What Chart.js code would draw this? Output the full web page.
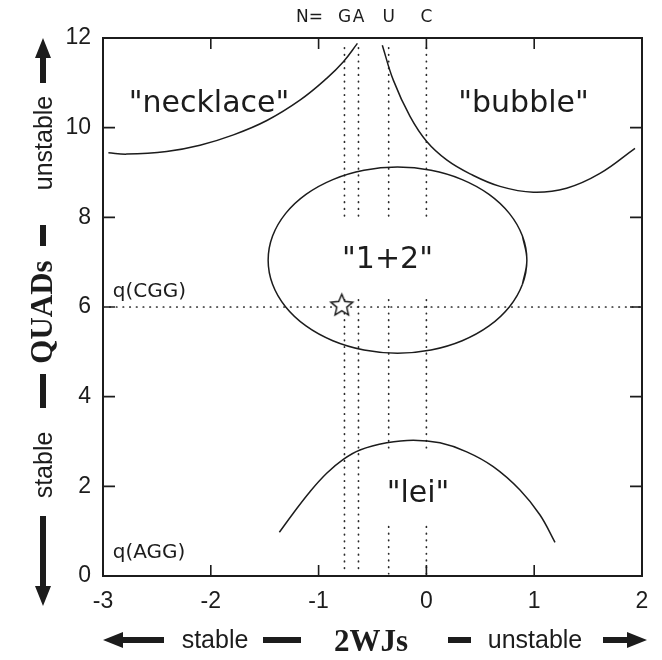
<!DOCTYPE html>
<html>
<head>
<meta charset="utf-8">
<script src="https://cdn.jsdelivr.net/npm/chart.js@4.4.1/dist/chart.umd.min.js"></script>
<style>
  html, body { margin: 0; padding: 0; background: #fff; }
  #wrap { width: 662px; height: 660px; }
</style>
</head>
<body>
<div id="wrap"><canvas id="chart"></canvas></div>
<script>
// ---------- data ----------
const xTickVals = [-3, -2, -1, 0, 1, 2];
const yTickVals = [0, 2, 4, 6, 8, 10, 12];

// "necklace" boundary
const necklaceX = [-2.95, -2.78, -2.41, -2.10, -1.79, -1.48, -1.17, -0.925, -0.77, -0.64];
const necklaceY = [9.44, 9.41, 9.47, 9.61, 9.84, 10.16, 10.62, 11.10, 11.47, 11.88];

// "bubble" boundary
const bubbleX = [-0.409, -0.307, -0.152, 0.003, 0.188, 0.405, 0.683, 0.992, 1.30, 1.61, 1.935];
const bubbleY = [11.84, 11.06, 10.25, 9.69, 9.28, 8.97, 8.69, 8.56, 8.65, 8.98, 9.54];

// "1+2" closed boundary (first and last points overlap so the loop closes smoothly)
const pairX = [0.891, 0.932, 0.891, 0.771, 0.581, 0.332, 0.043, -0.268, -0.579, -0.868, -1.117, -1.307, -1.427, -1.468,
               -1.427, -1.307, -1.117, -0.868, -0.579, -0.268, 0.043, 0.332, 0.581, 0.771, 0.891, 0.932, 0.891];
const pairY = [6.508, 7.045, 7.582, 8.083, 8.512, 8.842, 9.049, 9.120, 9.049, 8.842, 8.512, 8.083, 7.582, 7.045,
               6.508, 6.007, 5.578, 5.248, 5.041, 4.970, 5.041, 5.248, 5.578, 6.007, 6.508, 7.045, 7.582];

// "lei" boundary
const leiX = [-1.364, -1.235, -1.080, -0.925, -0.771, -0.616, -0.368, -0.122, 0.126, 0.374, 0.62, 0.868, 1.054, 1.193];
const leiY = [0.975, 1.40, 1.88, 2.29, 2.60, 2.81, 2.97, 3.03, 2.97, 2.77, 2.44, 1.92, 1.36, 0.75];

// N = G A U C reference lines
const baseNames = ['G', 'A', 'U', 'C'];
const baseX = [-0.76, -0.63, -0.35, 0];
const baseSegs = [
  [[11.78, 7.94], [6.16, 0.05]],
  [[11.78, 7.94], [6.16, 0.05]],
  [[11.78, 7.94], [6.16, 2.74], [1.10, 0.05]],
  [[11.78, 7.94], [6.16, 2.74], [1.10, 0.05]]
];

// q(CGG) level and the marked point
const qLineY = 6;
const starX = [-0.785];
const starY = [6.03];

// text placed in data coordinates
const regionNames = ['"necklace"', '"bubble"', '"1+2"', '"lei"'];
const regionX = [-2.017, 0.901, -0.361, -0.078];
const regionY = [10.36, 10.36, 6.86, 1.66];
const qNames = ['q(CGG)', 'q(AGG)'];
const qX = [-2.91, -2.91];
const qY = [6.23, 0.40];

// ---------- helpers ----------
const zip = (xs, ys) => xs.map((v, i) => ({ x: v, y: ys[i] }));
const INK = '#1c1c1c';
const SANS = "'Liberation Sans', Arial, sans-serif";
const VERA = "'DejaVu Sans', sans-serif";
const SERIF_BOLD = 'bold 31px "Liberation Serif", "Times New Roman", serif';

function makeStar(r) {
  const c = document.createElement('canvas');
  const s = Math.ceil(r * 2 + 4);
  c.width = c.height = s;
  const g = c.getContext('2d');
  g.translate(s / 2, s / 2);
  g.beginPath();
  for (let i = 0; i < 10; i++) {
    const rr = i % 2 ? r * 0.45 : r;
    const a = -Math.PI / 2 + i * Math.PI / 5;
    g.lineTo(rr * Math.cos(a), rr * Math.sin(a));
  }
  g.closePath();
  g.fillStyle = '#fff';
  g.fill();
  g.lineWidth = 1.4;
  g.strokeStyle = '#111';
  g.stroke();
  return c;
}

function solid(points) {
  return { data: points, showLine: true, borderColor: INK, borderWidth: 1.5, pointRadius: 0, tension: 0.4, fill: false };
}
function dotted(points) {
  return { data: points, showLine: true, borderColor: '#2a2a2a', borderWidth: 1.7, borderDash: [0.5, 6.2],
           borderCapStyle: 'round', pointRadius: 0, tension: 0, spanGaps: false, fill: false };
}

const datasets = [];
datasets.push({ data: zip(starX, starY), showLine: false, pointStyle: makeStar(11.5), pointRadius: 12 });
datasets.push(solid(zip(necklaceX, necklaceY)));
datasets.push(solid(zip(bubbleX, bubbleY)));
datasets.push(solid(zip(pairX, pairY)));
datasets.push(solid(zip(leiX, leiY)));
datasets.push(dotted([{ x: -3, y: qLineY }, { x: 2, y: qLineY }]));
baseX.forEach((bx, i) => {
  const pts = [];
  baseSegs[i].forEach((seg, k) => {
    if (k > 0) pts.push({ x: bx, y: null });
    pts.push({ x: bx, y: seg[0] }, { x: bx, y: seg[1] });
  });
  datasets.push(dotted(pts));
});

// ---------- drawing extras ----------
function arrow(ctx, tx, ty, angle, len) {
  ctx.save();
  ctx.translate(tx, ty);
  ctx.rotate(angle);
  ctx.beginPath();
  ctx.moveTo(0, 0);
  ctx.lineTo(-20, -8);
  ctx.lineTo(-20, -3);
  ctx.lineTo(-len, -3);
  ctx.lineTo(-len, 3);
  ctx.lineTo(-20, 3);
  ctx.lineTo(-20, 8);
  ctx.closePath();
  ctx.fill();
  ctx.restore();
}

const decor = {
  id: 'decor',
  afterDatasetsDraw(chart) {
    const { ctx, chartArea: a, scales: { x, y } } = chart;
    ctx.save();
    // frame and inward ticks
    ctx.strokeStyle = INK;
    ctx.lineWidth = 2;
    ctx.strokeRect(a.left, a.top, a.right - a.left, a.bottom - a.top);
    ctx.lineWidth = 1.6;
    ctx.beginPath();
    xTickVals.forEach(v => {
      const px = x.getPixelForValue(v);
      ctx.moveTo(px, a.bottom); ctx.lineTo(px, a.bottom - 11);
      ctx.moveTo(px, a.top); ctx.lineTo(px, a.top + 11);
    });
    yTickVals.forEach(v => {
      const py = y.getPixelForValue(v);
      ctx.moveTo(a.left, py); ctx.lineTo(a.left + 12, py);
      ctx.moveTo(a.right, py); ctx.lineTo(a.right - 12, py);
    });
    ctx.stroke();

    ctx.fillStyle = INK;
    // region names
    ctx.font = '30px ' + VERA;
    ctx.textAlign = 'center';
    ctx.textBaseline = 'alphabetic';
    regionNames.forEach((t, i) => ctx.fillText(t, x.getPixelForValue(regionX[i]), y.getPixelForValue(regionY[i])));
    // q labels
    ctx.font = '20px ' + VERA;
    ctx.textAlign = 'left';
    qNames.forEach((t, i) => ctx.fillText(t, x.getPixelForValue(qX[i]), y.getPixelForValue(qY[i])));
    // N= G A U C
    ctx.font = '17px ' + VERA;
    ctx.textAlign = 'center';
    ctx.textBaseline = 'middle';
    ctx.fillText('N=', x.getPixelForValue(baseX[0]) - 35, 18);
    baseNames.forEach((t, i) => ctx.fillText(t, x.getPixelForValue(baseX[i]), 18));

    // bottom axis title
    const by = 640;
    arrow(ctx, a.left, by, Math.PI, 61);
    ctx.font = '25px ' + SANS;
    ctx.textBaseline = 'alphabetic';
    ctx.fillText('stable', 215, 648);
    ctx.fillRect(263, by - 3, 38, 6);
    ctx.font = SERIF_BOLD;
    ctx.fillText('2WJs', 371, 651);
    ctx.fillRect(448, by - 3, 23, 6);
    ctx.font = '25px ' + SANS;
    ctx.fillText('unstable', 535, 648);
    arrow(ctx, a.right + 5, by, 0, 44);

    // left axis title
    const lx = 43;
    arrow(ctx, lx, a.top, -Math.PI / 2, 45);
    ctx.fillRect(lx - 3, 225, 6, 21);
    ctx.fillRect(lx - 3, 374, 6, 34);
    arrow(ctx, lx, 606, Math.PI / 2, 90);
    const vtext = (t, cy, font) => {
      ctx.save();
      ctx.translate(52, cy);
      ctx.rotate(-Math.PI / 2);
      ctx.font = font;
      ctx.fillText(t, 0, 0);
      ctx.restore();
    };
    vtext('unstable', 143, '25px ' + SANS);
    vtext('QUADs', 312, SERIF_BOLD);
    vtext('stable', 465, '25px ' + SANS);
    ctx.restore();
  }
};

// ---------- chart ----------
new Chart(document.getElementById('chart'), {
  type: 'scatter',
  data: { datasets: datasets },
  plugins: [decor],
  options: {
    responsive: true,
    maintainAspectRatio: false,
    animation: false,
    devicePixelRatio: 1,
    layout: { padding: { top: 38, right: 20, left: 0, bottom: 0 } },
    plugins: { legend: { display: false }, tooltip: { enabled: false } },
    scales: {
      x: {
        type: 'linear', min: -3, max: 2,
        afterBuildTicks: s => { s.ticks = xTickVals.map(v => ({ value: v })); },
        afterFit: s => { s.height = 84; },
        grid: { display: false, drawTicks: false },
        border: { display: false },
        ticks: { font: { family: SANS, size: 23 }, color: INK, padding: 12 }
      },
      y: {
        type: 'linear', min: 0, max: 12,
        afterBuildTicks: s => { s.ticks = yTickVals.map(v => ({ value: v })); },
        afterFit: s => { s.width = 103; },
        grid: { display: false, drawTicks: false },
        border: { display: false },
        ticks: { font: { family: SANS, size: 23 }, color: INK, padding: 12 }
      }
    }
  }
});
</script>
</body>
</html>
